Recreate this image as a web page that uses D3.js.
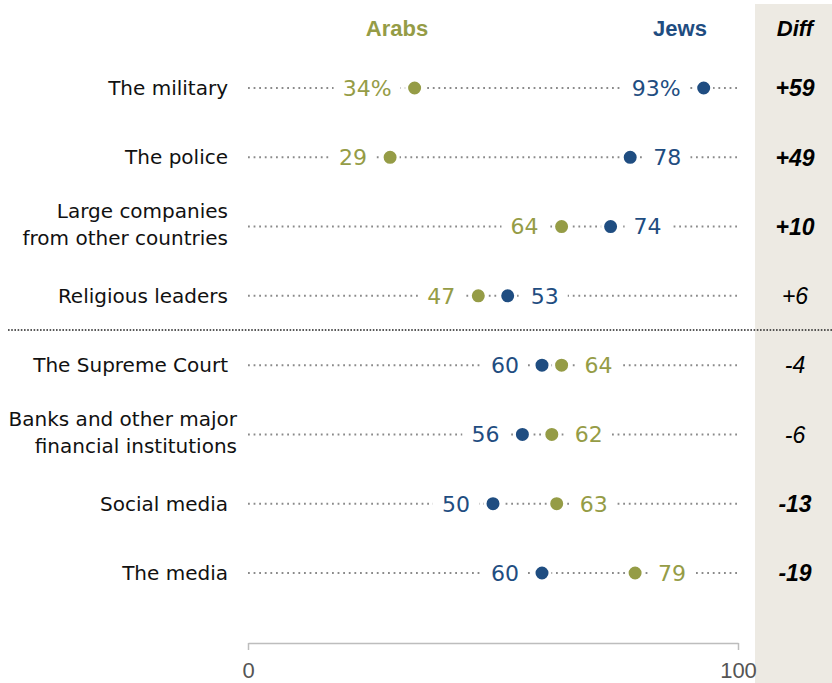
<!DOCTYPE html>
<html>
<head>
<meta charset="utf-8">
<script src="https://cdn.jsdelivr.net/npm/d3@7"></script>
<style>
  html, body { margin: 0; padding: 0; background: #fff; }
  svg { display: block; }
</style>
</head>
<body>
<svg id="chart" width="832" height="683"></svg>
<script>
// Institutions rated, top to bottom
const categories = [
  "The military",
  "The police",
  "Large companies|from other countries",
  "Religious leaders",
  "The Supreme Court",
  "Banks and other major|financial institutions",
  "Social media",
  "The media"
];
// Share saying each has a good influence (%)
const arabs = [34, 29, 64, 47, 64, 62, 63, 79];
const jews  = [93, 78, 74, 53, 60, 56, 50, 60];
// Difference (Jews minus Arabs) and whether it is significant
const diffs = ["+59", "+49", "+10", "+6", "-4", "-6", "-13", "-19"];
const diffSignificant = [true, true, true, false, false, false, true, true];
const xTicks = [0, 100];

const ARAB = "#959C46", JEW = "#1F4D81", PANEL = "#EDEAE3";
const SANS = "'Liberation Sans', Arial, sans-serif";
const BODY = "'DejaVu Sans', sans-serif";

const svg = d3.select("#chart");
const x = d3.scaleLinear().domain([0, 100]).range([248, 738]);
const y = d3.scalePoint().domain(categories).range([88, 573]);

// Diff column background
svg.append("rect").attr("x", 755).attr("y", 4).attr("width", 77).attr("height", 679).attr("fill", PANEL);

// Column headers
const header = (tx, label, color, italic) => svg.append("text")
  .attr("x", tx).attr("y", 36).attr("text-anchor", "middle")
  .style("font-family", SANS).style("font-weight", "bold").style("font-size", "22px")
  .style("font-style", italic ? "italic" : "normal").attr("fill", color).text(label);
header(397, "Arabs", ARAB, false);
header(680, "Jews", JEW, false);
header(795, "Diff", "#000", true);

// Divider between the institutions with positive and negative gaps
svg.append("line").attr("x1", 8).attr("x2", 832).attr("y1", 330).attr("y2", 330)
  .attr("stroke", "#222").attr("stroke-width", 1.6).attr("stroke-dasharray", "1.6,1.6");

const rows = svg.append("g").selectAll("g").data(categories).join("g")
  .attr("transform", d => `translate(0,${y(d)})`);

// Dotted guide line per row
rows.append("line").attr("x1", x(0)).attr("x2", x(100))
  .attr("stroke", "#8a8a8a").attr("stroke-width", 2).attr("stroke-dasharray", "1.8,3.8");

// Row labels (may wrap onto two lines); very long labels sit a little further right
rows.each(function (d) {
  const lines = d.split("|");
  const t = d3.select(this).append("text").attr("text-anchor", "end")
    .style("font-family", BODY).style("font-size", "20px").attr("fill", "#111");
  const lh = 27;
  const spans = lines.map((ln, i) => t.append("tspan")
    .attr("y", (i - (lines.length - 1) / 2) * lh - (lines.length > 1 ? 2 : 0))
    .attr("dy", "0.36em").text(ln));
  const wide = d3.max(spans, s => s.node().getComputedTextLength()) > 215;
  spans.forEach(s => s.attr("x", wide ? 237 : 228));
});

// Value labels, with white backing to break the dotted line
rows.each(function (d, i) {
  const g = d3.select(this);
  const a = arabs[i], j = jews[i];
  const suffix = i === 0 ? "%" : "";
  const pts = [
    { v: a, color: ARAB },
    { v: j, color: JEW }
  ];
  const hi = a >= j ? pts[0] : pts[1];
  const lo = a >= j ? pts[1] : pts[0];
  lo.side = -1;
  hi.side = hi.v > 85 ? -1 : 1;  // no room right of the highest values
  pts.forEach(p => {
    const tx = x(p.v) + p.side * 23;
    const bg = g.append("rect").attr("fill", "#fff");
    const t = g.append("text").attr("x", tx).attr("y", 0).attr("dy", "0.36em")
      .attr("text-anchor", p.side < 0 ? "end" : "start")
      .style("font-family", BODY).style("font-size", "22px").attr("fill", p.color).text(p.v + suffix);
    const bb = t.node().getBBox();
    bg.attr("x", bb.x - 9).attr("y", -8).attr("width", bb.width + 18).attr("height", 16);
  });
  pts.forEach(p => {
    g.append("circle").attr("cx", x(p.v)).attr("cy", 0).attr("r", 8)
      .attr("fill", p.color).attr("stroke", "#fff").attr("stroke-width", 3);
  });
  // Diff value
  g.append("text").attr("x", 795).attr("y", 0).attr("dy", "0.36em").attr("text-anchor", "middle")
    .style("font-family", SANS).style("font-size", "23px").style("font-style", "italic")
    .style("font-weight", diffSignificant[i] ? "bold" : "normal")
    .attr("fill", "#000").text(diffs[i]);
});

// Bottom axis
const axis = svg.append("g").attr("transform", "translate(0,643)")
  .call(d3.axisBottom(x).tickValues(xTicks).tickSize(7).tickSizeOuter(0).tickPadding(12));
axis.select(".domain").attr("stroke", "#bdbdbd").attr("stroke-width", 1.5);
axis.selectAll(".tick line").attr("stroke", "#bdbdbd").attr("stroke-width", 1.5);
axis.selectAll(".tick text").style("font-size", "22px").attr("fill", "#555")
  .style("font-family", SANS);
</script>
</body>
</html>
